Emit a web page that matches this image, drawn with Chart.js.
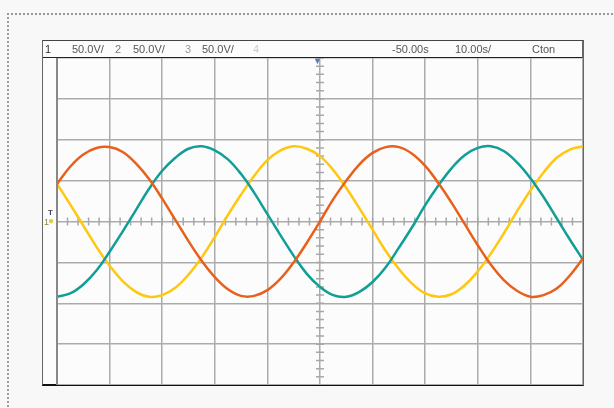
<!DOCTYPE html>
<html>
<head>
<meta charset="utf-8">
<script src="https://cdn.jsdelivr.net/npm/chart.js@4/dist/chart.umd.min.js"></script>
<style>
  body { margin: 0; background: #f8f8f8; font-family: "Liberation Sans", Arial, sans-serif; }
  #page { position: relative; width: 614px; height: 408px; overflow: hidden; }
  #dots { position: absolute; left: 7px; top: 13px; width: 700px; height: 500px; border-left: 2px dotted #999; border-top: 2px dotted #999; }
  #scope { position: absolute; left: 42px; top: 40px; width: 539px; height: 343px; background: #fcfcfc;
           border-top: 1px solid #444; border-left: 1px solid #666; border-right: 2px solid #666; border-bottom: 2px solid #111; }
  #head { position: absolute; left: 43px; top: 41px; width: 539px; height: 16px; border-bottom: 1px solid #222; }
  #strip { position: absolute; left: 56px; top: 58px; width: 2px; height: 327px; background: #888; }
  .lbl { position: absolute; top: 43px; font-size: 11px; line-height: 12px; white-space: nowrap; color: #555; }
  #wrap { position: absolute; left: 57px; top: 58px; width: 526px; height: 327px; }
  .mk { position: absolute; font-size: 8px; line-height: 8px; }
</style>
</head>
<body>
<div id="page">
  <div id="dots"></div>
  <div id="scope"></div>
  <div id="head"></div>
  <div id="wrap"><canvas id="scopeChart" width="526" height="327"></canvas></div>
  <div id="strip"></div>
  <div class="mk" style="left:313px; top:57px; color:#5b7fae; font-size:9px;">&#9660;</div>
  <div class="mk" style="left:48px; top:209px; color:#445; font-weight:bold;">T</div>
  <div class="mk" style="left:44px; top:218px; color:#8a8a40; font-size:9px;">1</div>
  <div class="mk" style="left:48px; top:217px; color:#d8d040; font-size:10px;">&#9679;</div>
</div>
<script>
// time axis (ms), 10 ms / div, 10 divisions
const times = [0, 2.5, 5, 7.5, 10, 12.5, 15, 17.5, 20, 22.5, 25, 27.5, 30, 32.5, 35, 37.5, 40, 42.5, 45, 47.5,
  50, 52.5, 55, 57.5, 60, 62.5, 65, 67.5, 70, 72.5, 75, 77.5, 80, 82.5, 85, 87.5, 90, 92.5, 95, 97.5, 100];

// volts (50 V / div)
const ch1 = [46, 67, 82, 90, 91, 85, 71, 52, 28, 2, -24, -48, -68, -83, -91, -91, -84, -70, -50, -26,
  0, 27, 50, 70, 84, 91, 91, 83, 68, 47, 23, -3, -29, -53, -72, -85, -92, -90, -82, -66, -45];
const ch2 = [-92, -88, -77, -60, -37, -12, 14, 40, 62, 78, 89, 92, 87, 76, 58, 35, 9, -17, -42, -64,
  -80, -90, -92, -86, -74, -56, -32, -7, 20, 44, 65, 81, 90, 92, 86, 72, 53, 30, 4, -22, -47];
const ch3 = [46, 21, -5, -31, -54, -73, -86, -92, -90, -81, -65, -44, -19, 8, 33, 56, 75, 87, 92, 89,
  80, 63, 41, 16, -10, -36, -58, -76, -88, -92, -89, -78, -61, -39, -14, 13, 38, 60, 78, 88, 92];

const chColors = ['#e8601a', '#109e96', '#ffc70f'];

// header readout
const headTexts = ['1', '50.0V/', '2', '50.0V/', '3', '50.0V/', '4', '-50.00s', '10.00s/', 'Cton'];
const headX = [45, 72, 115, 133, 185, 202, 253, 392, 455, 532];
const headCol = ['#333', '#555', '#777', '#555', '#999', '#555', '#ccc', '#555', '#555', '#555'];

headTexts.forEach(function (t, i) {
  let d = document.createElement('div');
  d.className = 'lbl';
  d.style.left = headX[i] + 'px';
  d.style.color = headCol[i];
  d.textContent = t;
  document.getElementById('page').appendChild(d);
});

function pts(arr) {
  return arr.map(function (v, i) { return { x: times[i], y: v }; });
}

// small ticks on the centre cross
const crossTicks = {
  id: 'crossTicks',
  beforeDatasetsDraw(chart) {
    let ctx = chart.ctx, xs = chart.scales.x, ys = chart.scales.y;
    let cx = xs.getPixelForValue(50), cy = ys.getPixelForValue(0);
    ctx.save();
    ctx.strokeStyle = '#a8a8a8';
    ctx.lineWidth = 1.5;
    ctx.beginPath();
    for (let t = 0; t <= 100; t += 2) {
      let px = xs.getPixelForValue(t);
      ctx.moveTo(px, cy - 4); ctx.lineTo(px, cy + 4);
    }
    for (let v = -200; v <= 200; v += 10) {
      let py = ys.getPixelForValue(v);
      ctx.moveTo(cx - 4, py); ctx.lineTo(cx + 4, py);
    }
    ctx.stroke();
    ctx.restore();
  }
};

let scopeChart = new Chart(document.getElementById('scopeChart').getContext('2d'), {
  type: 'line',
  data: {
    datasets: [ch1, ch2, ch3].map(function (arr, i) {
      return {
        label: 'CH' + (i + 1),
        data: pts(arr),
        borderColor: chColors[i],
        borderWidth: 2.5,
        pointRadius: 0,
        tension: 0.4,
        fill: false
      };
    })
  },
  options: {
    responsive: false,
    animation: false,
    layout: { padding: 0 },
    plugins: { legend: { display: false }, tooltip: { enabled: false } },
    scales: {
      x: {
        type: 'linear', min: 0, max: 100,
        ticks: { display: false, stepSize: 10 },
        grid: { color: '#ababab', lineWidth: 1.5, drawTicks: false },
        border: { display: false }
      },
      y: {
        min: -200, max: 200,
        ticks: { display: false, stepSize: 50 },
        grid: { color: '#ababab', lineWidth: 1.5, drawTicks: false },
        border: { display: false }
      }
    }
  },
  plugins: [crossTicks]
});
</script>
</body>
</html>
